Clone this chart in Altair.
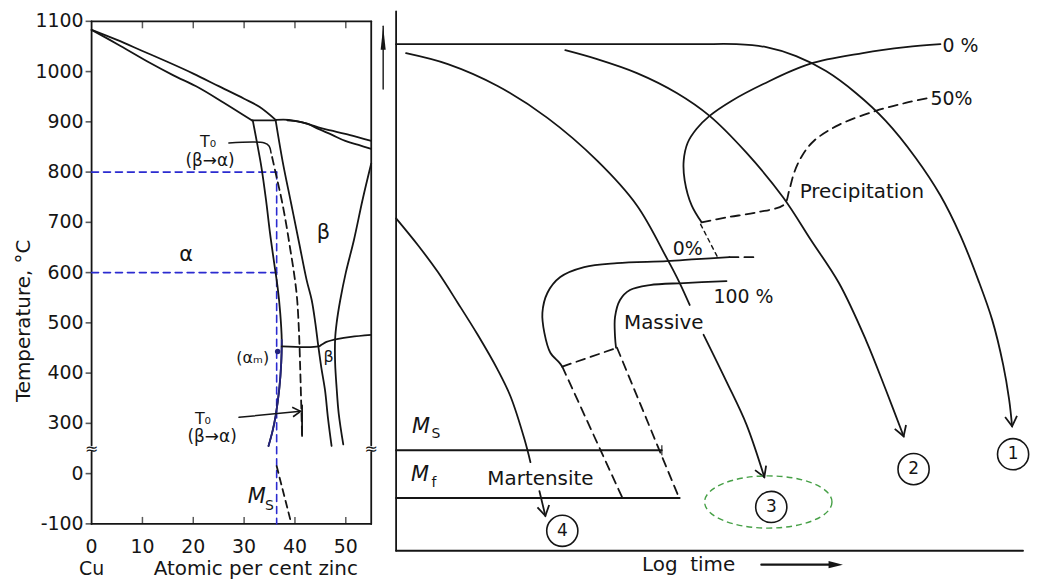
import altair as alt
import pandas as pd

INK = "#151515"
BLUE = "#2b2bd0"
NAVY = "#23237e"
GREEN = "#46a046"
FONT = "DejaVu Sans"

# ================= LEFT PANEL: Cu-Zn diagram (at.% Zn, temperature in deg C) =================
zn_ticks = [0, 10, 20, 30, 40, 50]
temp_ticks = [1100, 1000, 900, 800, 700, 600, 500, 400, 300, 0, -100]

liq_zn = [0, 5, 10, 15, 20, 25, 30, 33, 36.2]
liq_t = [1083, 1063, 1041, 1019, 996, 971, 946, 930, 904]
sol_zn = [0, 5, 11.35, 16, 21.1, 26, 31.5]
sol_t = [1083, 1055, 1018, 993, 968, 938, 903]
perit_zn = [31.5, 36.2]
perit_t = [903, 903]
bliq_zn = [36.2, 38.8, 41.5, 44.6, 47, 49.9, 52.5, 55]
bliq_t = [904, 904, 899, 889, 883, 876, 869, 862]
bsol_zn = [38.5, 40.5, 42.5, 44.6, 47.3, 49.9, 52.5, 55]
bsol_t = [903, 901, 896, 886, 874, 862, 854, 846]
alpha_zn = [31.7, 32.6, 33.4, 34.3, 35.1, 35.9, 36.6, 37.1, 37.4, 37.3, 36.9, 36.2, 35.6, 34.8]
alpha_t = [903, 855, 810, 745, 678, 620, 570, 520, 466, 420, 367, 315, 285, 255]
beta_zn = [36.2, 37.6, 39.2, 40.8, 42.3, 43.3, 44.0, 44.6, 45.2, 45.9, 46.5, 47.2]
beta_t = [903, 820, 740, 660, 585, 545, 500, 453, 410, 367, 310, 255]
gamma_zn = [55, 53.3, 51.6, 50.0, 48.9, 48.2, 47.9, 47.9, 48.2, 48.6, 49.5]
gamma_t = [817, 745, 665, 600, 545, 500, 468, 420, 370, 320, 258]
order_zn = [37.4, 44.6, 45.3, 46.2, 48.5, 51, 55]
order_t = [453, 453, 457, 462, 468, 472, 476]
t0_zn = [35.5, 36.5, 37.4, 38.3, 39.1, 39.8, 40.4, 40.8, 41.0, 41.2, 41.4]
t0_t = [830, 785, 744, 695, 645, 600, 550, 480, 420, 350, 275]
t0_end_zn = [41.4, 41.4]
t0_end_t = [336, 275]
t0_lead1_zn = [27.0, 34.0, 34.9, 35.3]
t0_lead1_t = [858, 858, 852, 838]
t0_lead2_zn = [29.0, 41.1]
t0_lead2_t = [312, 324]
ms_left_zn = [36.4, 39.3]
ms_left_t = [15, -100]
g800_zn = [0, 36.4]
g800_t = [800, 800]
g600_zn = [0, 36.4]
g600_t = [600, 600]
gv_zn = [36.4, 36.4]
gv_t = [800, -100]
am_zn = [36.6]
am_t = [443]

frame_top = ([0, 55], [1100, 1100])
frame_bot = ([0, 55], [-100, -100])
frame_l_hi = ([0, 0], [1100, 256])
frame_l_lo = ([0, 0], [43, -100])
frame_r_hi = ([55, 55], [1100, 256])
frame_r_lo = ([55, 55], [43, -100])
break_zn = [0, 55]
break_t = [249.5, 249.5]
inner_ticks = [10, 20, 30, 40, 50]

lab_big_zn = [18.6, 45.6]
lab_big_t = [635, 678]
lab_big = ["α", "β"]
lab_t0_zn = [22.9, 21.9]
lab_t0_t = [860, 309]
lab_ba_zn = [23.3, 23.7]
lab_ba_t = [823, 272]
lab_small_zn = [46.6, 31.7]
lab_small_t = [433, 431]
lab_small = ["β", "(αₘ)"]
lab_m_zn = [32.5]
lab_m_t = [-46.5]
lab_s_zn = [35.0]
lab_s_t = [-64.4]
ytitle_zn = [-13.3]
ytitle_t = [504]
xtitle_zn = [32.3]
cu_zn = [0]

# ================= RIGHT PANEL: schematic (relative log time, relative temperature) =================
c1_x = [0, 300, 342, 372, 402, 432, 462, 492, 522, 547, 567, 585, 599, 610, 616, 619]
c1_y = [509, 509, 509, 506, 497, 482, 460, 432, 395, 357, 317, 272, 232, 187, 152, 125]
c2_x = [170, 202, 242, 282, 315, 352, 389, 417, 445, 472, 492, 510]
c2_y = [503, 494, 480, 460, 437, 400, 355, 312, 269, 212, 162, 115]
c3a_x = [10, 52, 102, 152, 202, 242, 272, 285, 295]
c3a_y = [500, 489, 467, 435, 392, 347, 294, 269, 247]
c3b_x = [309, 332, 352, 370]
c3b_y = [217, 170, 127, 74]
c4a_x = [0, 22, 42, 62, 82, 102, 115, 129, 135]
c4a_y = [334, 307, 280, 249, 217, 182, 155, 112, 89]
c4b_x = [144, 150]
c4b_y = [60, 35]
p0_x = [307, 297, 290, 289, 293, 302, 315, 337, 369, 415, 469, 512, 547]
p0_y = [330, 347, 372, 392, 410, 424, 437, 452, 469, 489, 500, 506, 509]
p50_x = [307, 332, 362, 390, 395, 400, 408, 420, 445, 482, 512, 535]
p50_y = [330, 335, 340, 348, 362, 380, 397, 412, 428, 442, 450, 455]
pdot_x = [306, 323]
pdot_y = [328, 295]
m0_x = [335, 302, 272, 222, 189, 165, 152, 147, 149, 155, 164, 167]
m0_y = [295, 293, 291, 289, 285, 275, 259, 239, 219, 199, 189, 185]
m0_tail_x = [335, 365]
m0_tail_y = [295, 295]
m0_down_x = [167, 227]
m0_down_y = [185, 54]
m100_x = [332, 289, 255, 235, 225, 220, 220, 221]
m100_y = [271, 269, 267, 262, 252, 235, 215, 204]
m100_down_x = [222, 284]
m100_down_y = [204, 54]
mlink_x = [167, 222]
mlink_y = [185, 204]
ms_x = [0, 267]
ms_y = [101, 101]
mf_x = [0, 285]
mf_y = [53, 53]
axis_v = ([0, 0], [542, 0])
axis_h = ([0, 630], [0, 0])
temp_arrow = ([-13, -13], [464, 527])
temp_head = ([-13], [515])
logt_arrow = ([367, 436], [-14, -14])
logt_head = ([449], [-14])

circ_x = [620, 520, 377, 167]
circ_y = [97, 82, 44, 20]
circ_lab = ["1", "2", "3", "4"]
ell_x = [374]
ell_y = [49]

rlab_x = [145, 269, 468]
rlab_y = [72, 229, 360]
rlab = ["Martensite", "Massive", "Precipitation"]
logt_x = [294]
logt_y = [-14]
pct_left_x = [549, 537]
pct_left_y = [507, 454]
pct_left = ["0 %", "50%"]
pct_mid_x = [293, 349]
pct_mid_y = [303, 255]
pct_mid = ["0%", "100 %"]
m_x = [25, 24]
m_y = [124, 76]
msub_x = [40, 38]
msub_y = [117, 68]
msub = ["S", "f"]

# ================= geometry helpers =================
LW, RW, H = 374, 646, 564
LX = alt.Scale(domain=[-16.441, 56.762], nice=False, zero=False)
LY = alt.Scale(domain=[6.93, 1123.76], nice=False, zero=False)
RX = alt.Scale(domain=[-16, 630], nice=False, zero=False)
RY = alt.Scale(domain=[-20, 544], nice=False, zero=False)
BREAK = "datum.y >= 150 ? datum.y : datum.y + 200"

VSHAPE = "M-0.6,-1L0,0L0.6,-1"
HEAD_R = "M0,0L-1.8,-0.45L-1.8,0.45Z"
HEAD_UP = "M0,-1L0.22,1L-0.22,1Z"
ELLIPSE = ("M1,0C1,0.2264,0.5523,0.41,0,0.41C-0.5523,0.41,-1,0.2264,-1,0"
           "C-1,-0.2264,-0.5523,-0.41,0,-0.41C0.5523,-0.41,1,-0.2264,1,0Z")


def df(xs, ys, labels=None):
    d = pd.DataFrame({"x": xs, "y": ys, "i": list(range(len(xs)))})
    if labels is not None:
        d["t"] = labels
    return d


def lenc(ch):
    return ch.transform_calculate(yd=BREAK).encode(
        x=alt.X("x:Q", scale=LX, axis=None),
        y=alt.Y("yd:Q", scale=LY, axis=None),
    )


def renc(ch):
    return ch.encode(x=alt.X("x:Q", scale=RX, axis=None), y=alt.Y("y:Q", scale=RY, axis=None))


def line_kw(color, width, dash):
    kw = dict(color=color, strokeWidth=width, interpolate="catmull-rom",
              strokeCap="round", strokeJoin="round")
    if dash is not None:
        kw["strokeDash"] = dash
    return kw


def lline(xs, ys, color=INK, width=1.8, dash=None):
    return lenc(alt.Chart(df(xs, ys)).mark_line(**line_kw(color, width, dash))).encode(order="i:Q")


def rline(xs, ys, color=INK, width=1.8, dash=None):
    return renc(alt.Chart(df(xs, ys)).mark_line(**line_kw(color, width, dash))).encode(order="i:Q")


def ltext(xs, ys, labels, size, **kw):
    return lenc(alt.Chart(df(xs, ys, labels)).mark_text(
        font=FONT, fontSize=size, color=INK, baseline="middle", **kw)).encode(text="t:N")


def rtext(xs, ys, labels, size, **kw):
    return renc(alt.Chart(df(xs, ys, labels)).mark_text(
        font=FONT, fontSize=size, color=INK, baseline="middle", **kw)).encode(text="t:N")


def rpoint(xs, ys, **kw):
    base = dict(opacity=1)
    base.update(kw)
    return renc(alt.Chart(df(xs, ys)).mark_point(**base))


# ================= left panel =================
left_layers = [
    # frame with axis break
    lline(*frame_top), lline(*frame_bot),
    lline(*frame_l_hi), lline(*frame_l_lo),
    lline(*frame_r_hi), lline(*frame_r_lo),
    ltext(break_zn, break_t, ["≈", "≈"], 16),
    lenc(alt.Chart(df(inner_ticks, [1100] * 5)).mark_tick(
        orient="vertical", size=7, thickness=1.5, color=INK, yOffset=3.5)),
    lenc(alt.Chart(df(inner_ticks, [-100] * 5)).mark_tick(
        orient="vertical", size=7, thickness=1.5, color=INK, yOffset=-3.5)),
    # temperature axis: ticks + labels
    lenc(alt.Chart(df([0] * len(temp_ticks), temp_ticks)).mark_tick(
        orient="horizontal", size=6, thickness=1.6, color=INK, xOffset=-3)),
    ltext([0] * len(temp_ticks), temp_ticks, [str(t) for t in temp_ticks], 19, align="right", dx=-8),
    ltext(ytitle_zn, ytitle_t, ["Temperature, °C"], 20, angle=270),
    # composition axis labels
    ltext(zn_ticks, [-100] * len(zn_ticks), [str(z) for z in zn_ticks], 19, dy=23),
    ltext(cu_zn, [-100], ["Cu"], 19, dy=45),
    ltext(xtitle_zn, [-100], ["Atomic per cent zinc"], 20, dy=45),
    # blue guide lines
    lline(g800_zn, g800_t, color=BLUE, width=1.6, dash=[7, 5]),
    lline(g600_zn, g600_t, color=BLUE, width=1.6, dash=[7, 5]),
    lline(gv_zn, gv_t, color=BLUE, width=1.6, dash=[7, 5]),
    # phase boundaries
    lline(liq_zn, liq_t), lline(sol_zn, sol_t), lline(perit_zn, perit_t),
    lline(bliq_zn, bliq_t), lline(bsol_zn, bsol_t),
    lline(alpha_zn, alpha_t),
    lenc(alt.Chart(df(alpha_zn, alpha_t)).transform_filter("datum.y <= 470")
         .mark_line(**line_kw(NAVY, 1.8, None))).encode(order="i:Q"),
    lline(beta_zn, beta_t), lline(gamma_zn, gamma_t), lline(order_zn, order_t),
    lline(t0_zn, t0_t, dash=[8, 5]),
    lline(t0_end_zn, t0_end_t),
    lline(t0_lead1_zn, t0_lead1_t, width=1.5),
    lline(t0_lead2_zn, t0_lead2_t, width=1.5),
    lenc(alt.Chart(df(t0_lead2_zn[-1:], t0_lead2_t[-1:])).mark_point(
        shape=VSHAPE, size=256, angle=265, filled=False, stroke=INK, strokeWidth=1.6, opacity=1)),
    lline(ms_left_zn, ms_left_t, dash=[7, 5]),
    lenc(alt.Chart(df(am_zn, am_t)).mark_point(
        shape="circle", size=30, filled=True, color=NAVY, opacity=1)),
    # labels
    ltext(lab_big_zn, lab_big_t, lab_big, 21),
    ltext(lab_t0_zn, lab_t0_t, ["T₀", "T₀"], 16),
    ltext(lab_ba_zn, lab_ba_t, ["(β→α)", "(β→α)"], 17),
    ltext(lab_small_zn, lab_small_t, lab_small, 16),
    ltext(lab_m_zn, lab_m_t, ["M"], 21, fontStyle="italic"),
    ltext(lab_s_zn, lab_s_t, ["S"], 14),
]
left = alt.layer(*left_layers).properties(width=LW, height=H)

# ================= right panel =================
right_layers = [
    rline(*axis_v), rline(*axis_h),
    rline(*temp_arrow, width=1.4),
    rpoint(*temp_head, shape=HEAD_UP, size=529, filled=True, color=INK),
    rline(c1_x, c1_y), rline(c2_x, c2_y),
    rline(c3a_x, c3a_y), rline(c3b_x, c3b_y),
    rline(c4a_x, c4a_y), rline(c4b_x, c4b_y),
    rpoint(c1_x[-1:], c1_y[-1:], shape=VSHAPE, size=400, angle=354, filled=False, stroke=INK, strokeWidth=1.8),
    rpoint(c2_x[-1:], c2_y[-1:], shape=VSHAPE, size=400, angle=341, filled=False, stroke=INK, strokeWidth=1.8),
    rpoint(c3b_x[-1:], c3b_y[-1:], shape=VSHAPE, size=400, angle=338, filled=False, stroke=INK, strokeWidth=1.8),
    rpoint(c4b_x[-1:], c4b_y[-1:], shape=VSHAPE, size=400, angle=348, filled=False, stroke=INK, strokeWidth=1.8),
    rline(p0_x, p0_y),
    rline(p50_x, p50_y, dash=[9, 6]),
    rline(pdot_x, pdot_y, width=1.4, dash=[4, 4]),
    rline(m0_x, m0_y),
    rline(m0_tail_x, m0_tail_y, dash=[9, 6]),
    rline(m0_down_x, m0_down_y, dash=[9, 6]),
    rline(m100_x, m100_y),
    rline(m100_down_x, m100_down_y, dash=[9, 6]),
    rline(mlink_x, mlink_y, dash=[9, 6]),
    rline(ms_x, ms_y), rline(mf_x, mf_y),
    renc(alt.Chart(df(ms_x[-1:], ms_y[-1:])).mark_tick(orient="vertical", size=10, thickness=1.6, color=INK)),
    rline(*logt_arrow, width=2.2),
    rpoint(*logt_head, shape=HEAD_R, size=256, filled=True, color=INK),
    rpoint(circ_x, circ_y, shape="circle", size=980, filled=False, stroke=INK, strokeWidth=1.6),
    rtext(circ_x, circ_y, circ_lab, 17),
    rpoint(ell_x, ell_y, shape=ELLIPSE, size=16384, filled=False, stroke=GREEN,
           strokeWidth=1.4, strokeDash=[6, 4]),
    rtext(rlab_x, rlab_y, rlab, 20),
    rtext(logt_x, logt_y, ["Log\u00a0\u00a0time"], 20),
    rtext(pct_left_x, pct_left_y, pct_left, 19, align="left"),
    rtext(pct_mid_x, pct_mid_y, pct_mid, 19),
    rtext(m_x, m_y, ["M", "M"], 21, fontStyle="italic"),
    rtext(msub_x, msub_y, msub, 14),
]
right = alt.layer(*right_layers).properties(width=RW, height=H)

chart = (
    alt.hconcat(left, right, spacing=0, bounds="flush")
    .properties(padding=0, background="white")
    .configure_view(strokeWidth=0)
)

chart.save("out.html", embed_options={"renderer": "svg", "actions": False})
